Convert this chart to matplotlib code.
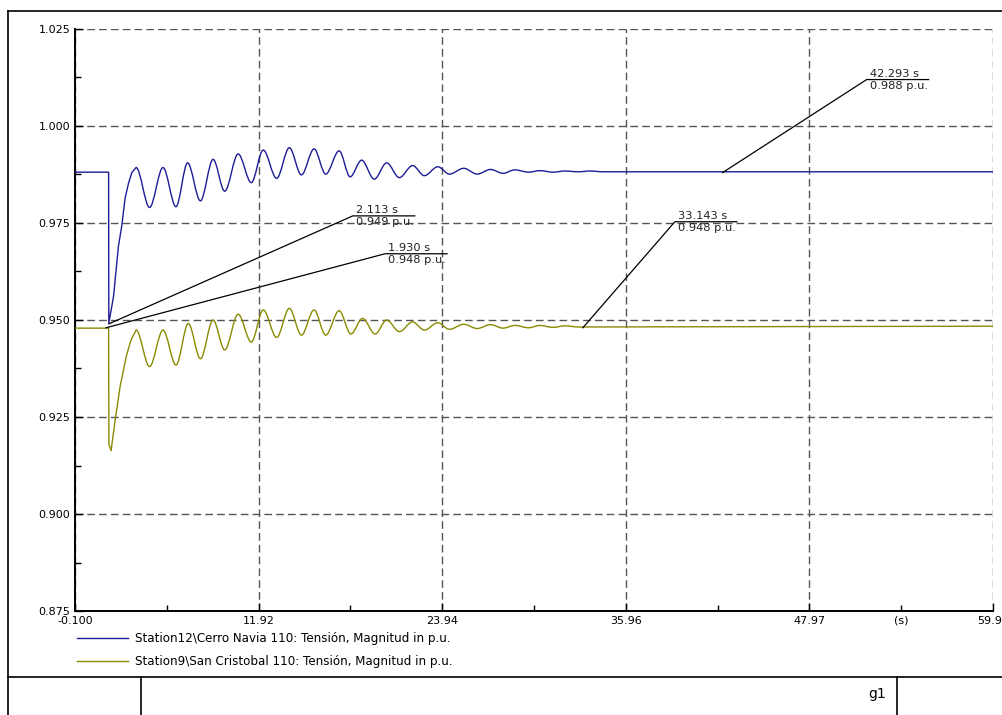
import matplotlib
matplotlib.use('Agg')
from matplotlib import pyplot as plt
from matplotlib.path import Path
from matplotlib.patches import PathPatch
from matplotlib.lines import Line2D
import matplotlib.transforms as mtransforms

# fault transient (straight pieces) for each bus
blue_step_t = [-0.1, 2.10, 2.113, 2.42, 2.74, 2.97, 3.18, 3.40, 3.62, 3.90]
blue_step_v = [0.9881, 0.9881, 0.9492, 0.9560, 0.9689, 0.9745, 0.9814, 0.9852, 0.9880, 0.9893]
yel_step_t = [-0.1, 2.10, 2.12, 2.26, 2.53, 2.85, 3.25, 3.56, 3.90]
yel_step_v = [0.9479, 0.9479, 0.9180, 0.9163, 0.9242, 0.9328, 0.9405, 0.9448, 0.9474]

# peaks / troughs of the swing after the fault
blue_ext_t = [3.90, 4.78, 5.66, 6.51, 7.27, 8.11, 8.94, 9.70, 10.58, 11.44,
              12.22, 13.10, 13.93, 14.72, 15.55, 16.31, 17.19, 17.91, 18.66, 19.49,
              20.30, 21.13, 22.00, 22.77, 23.65, 24.41, 25.35, 26.23, 27.10, 27.92,
              28.68, 29.60, 30.32, 31.20, 31.96, 32.84, 33.60, 34.48, 59.99]
blue_ext_v = [0.9893, 0.9790, 0.9893, 0.9792, 0.9905, 0.9807, 0.9914, 0.9832, 0.9928, 0.9854,
              0.9938, 0.9865, 0.9944, 0.9874, 0.9941, 0.9876, 0.9936, 0.9869, 0.9912, 0.9863,
              0.9905, 0.9867, 0.9898, 0.9872, 0.9895, 0.9876, 0.9891, 0.9876, 0.9888, 0.9878,
              0.9887, 0.9881, 0.9885, 0.9881, 0.9884, 0.9882, 0.9884, 0.9882, 0.9882]
yel_ext_t = [3.90, 4.78, 5.66, 6.51, 7.32, 8.11, 8.94, 9.70, 10.58, 11.44,
             12.22, 13.10, 13.93, 14.72, 15.55, 16.31, 17.19, 17.96, 18.72, 19.55,
             20.30, 21.13, 22.00, 22.77, 23.65, 24.41, 25.35, 26.23, 27.10, 27.92,
             28.68, 29.60, 30.32, 31.20, 31.96, 32.84, 59.99]
yel_ext_v = [0.9474, 0.9380, 0.9474, 0.9384, 0.9491, 0.9400, 0.9500, 0.9423, 0.9515, 0.9443,
             0.9526, 0.9455, 0.9530, 0.9461, 0.9526, 0.9461, 0.9524, 0.9464, 0.9504, 0.9464,
             0.9500, 0.9470, 0.9495, 0.9474, 0.9493, 0.9476, 0.9489, 0.9478, 0.9488, 0.9479,
             0.9486, 0.9480, 0.9486, 0.9481, 0.9485, 0.9482, 0.9484]

labels = ['Station12\\Cerro Navia 110: Tensión, Magnitud in p.u.',
          'Station9\\San Cristobal 110: Tensión, Magnitud in p.u.']
x_major = [-0.1, 11.92, 23.94, 35.96, 47.97, 59.99]
x_major_lab = ['-0.100', '11.92', '23.94', '35.96', '47.97', '59.99']
x_minor = [5.91, 17.93, 29.95, 41.97, 53.98]
x_minor_lab = ['', '', '', '', '(s)']
y_major = [0.875, 0.900, 0.925, 0.950, 0.975, 1.000, 1.025]
y_minor = [0.8875, 0.9125, 0.9375, 0.9625, 0.9875, 1.0125]

# cursor labels: point, text
marks = [(2.113, 0.949, '2.113 s', '0.949 p.u.', 244, 108),
         (1.930, 0.948, '1.930 s', '0.948 p.u.', 279, 74),
         (33.143, 0.948, '33.143 s', '0.948 p.u.', 92, 106),
         (42.293, 0.988, '42.293 s', '0.988 p.u.', 144, 93)]

BLUE = '#1c1c96'
OLIVE = '#8a8a00'


def swing(t, v, k=0.34):
    verts = [(t[0], v[0])]
    codes = [Path.MOVETO]
    for i in range(len(t) - 1):
        dt = t[i + 1] - t[i]
        if dt > 5:
            dt = 0.8
        verts += [(t[i] + k * dt, v[i]), (t[i + 1] - k * dt, v[i + 1]), (t[i + 1], v[i + 1])]
        codes += [Path.CURVE4] * 3
    return Path(verts, codes)


def cursor(ax, t, v, top, bot, dx, dy, w=62):
    tr = mtransforms.Affine2D() + mtransforms.ScaledTranslation(t, v, ax.transData)
    ax.add_line(Line2D([0, dx, dx + w], [0, dy, dy], transform=tr, color='k',
                       lw=0.9, clip_on=False, zorder=5))
    ax.text(dx + 3, dy + 1, top, transform=tr, ha='left', va='bottom', fontsize=8.2, color='#222222')
    ax.text(dx + 3, dy - 1, bot, transform=tr, ha='left', va='top', fontsize=8.2, color='#222222')


fig = plt.figure(figsize=(10.03, 7.15), dpi=100)
ax = fig.add_axes([75 / 1003, 104 / 715, 918 / 1003, 582 / 715])

ax.plot(blue_step_t, blue_step_v, color=BLUE, lw=1.0, zorder=3)
ax.plot(yel_step_t, yel_step_v, color=OLIVE, lw=1.0, zorder=3)
ax.add_patch(PathPatch(swing(blue_ext_t, blue_ext_v), fill=False, edgecolor=BLUE, lw=1.0, zorder=3))
ax.add_patch(PathPatch(swing(yel_ext_t, yel_ext_v), fill=False, edgecolor=OLIVE, lw=1.0, zorder=3))

ax.set_xlim(-0.1, 59.99)
ax.set_ylim(0.875, 1.025)
ax.set_xticks(x_major, x_major_lab)
ax.set_xticks(x_minor, x_minor_lab, minor=True)
ax.set_yticks(y_major, ['%.3f' % y for y in y_major])
ax.set_yticks(y_minor, minor=True)
ax.tick_params(which='both', direction='in', labelsize=8, colors='k', pad=3.5)
ax.tick_params(which='major', length=6, width=1)
ax.tick_params(which='minor', length=4, width=1)
ax.grid(True, which='major', color='#555555', lw=1, linestyle=(0, (5.5, 3)))
for s in ['top', 'right']:
    ax.spines[s].set_visible(False)
for s in ['left', 'bottom']:
    ax.spines[s].set_linewidth(1.4)

for t, v, top, bot, dx, dy in marks:
    cursor(ax, t, v, top, bot, dx, dy)

handles = [Line2D([], [], color=BLUE, lw=1), Line2D([], [], color=OLIVE, lw=1)]
fig.legend(handles, labels, loc='upper left', bbox_to_anchor=(77 / 1003, 1 - 632 / 715),
           frameon=False, fontsize=8.6, handlelength=4.3, handletextpad=0.55,
           labelspacing=0.85, borderpad=0, borderaxespad=0)

# drawing frame and title block
def fline(x, y):
    fig.add_artist(Line2D([a / 1003 for a in x], [1 - b / 715 for b in y],
                          transform=fig.transFigure, color='k', lw=1.2))

fline([8, 8], [11, 715])
fline([8, 1003], [11, 11])
fline([8, 1003], [677, 677])
fline([141, 141], [677, 715])
fline([897, 897], [677, 715])
fig.text(886 / 1003, 1 - 687 / 715, 'g1', ha='right', va='top', fontsize=10)

fig.savefig('out.png', dpi=100)
